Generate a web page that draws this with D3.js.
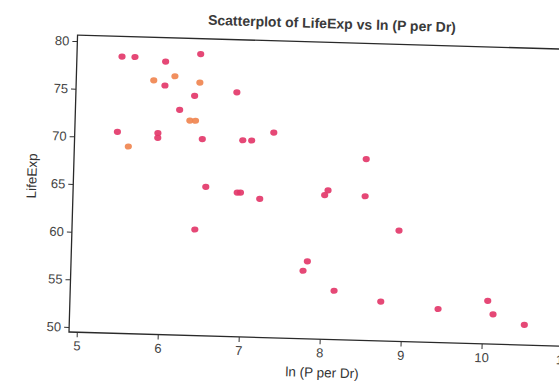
<!DOCTYPE html>
<html lang="en">
<head>
<meta charset="UTF-8">
<title>Scatterplot of LifeExp vs ln (P per Dr)</title>
<script src="https://d3js.org/d3.v7.min.js"></script>
<style>
    body { margin: 0; background: #fff; }
    svg { display: block; font-family: "Liberation Sans", Arial, sans-serif; }
    .axis text { font-size: 13px; fill: #444; }
    .axis line { stroke: #333; }
</style>
</head>
<body>
<div id="chart"></div>
<script>
    // values
    const lnPperDr = [5.46, 5.62, 6.43, 6.00, 5.86, 6.12, 6.00, 6.43, 6.37, 6.89,
                      6.19, 6.32, 6.39, 5.43, 5.57, 5.93, 5.93, 6.48, 6.98, 7.09,
                      7.36, 8.51, 8.05, 8.01, 6.54, 6.93, 6.97, 7.21, 6.42, 8.51,
                      8.94, 7.82, 7.77, 8.16, 8.74, 9.45, 10.06, 10.13, 10.52];
    const lifeExp = [78.5, 78.5, 79.0, 78.1, 76.1, 76.6, 75.6, 76.0, 74.6, 75.1,
                     73.1, 72.0, 72.0, 70.6, 69.1, 70.6, 70.1, 70.1, 70.1, 70.1,
                     71.0, 68.5, 65.1, 64.6, 65.1, 64.6, 64.6, 64.0, 60.6, 64.6,
                     61.1, 57.6, 56.6, 54.6, 53.6, 53.0, 54.0, 52.6, 51.6];
    // print tone of each dot: "o" orange, "p" pink
    const tone = ["p", "p", "p", "p", "o", "o", "p", "o", "p", "p",
                  "p", "o", "o", "p", "o", "p", "p", "p", "p", "p",
                  "p", "p", "p", "p", "p", "p", "p", "p", "p", "p",
                  "p", "p", "p", "p", "p", "p", "p", "p", "p"];
    const xTicks = [5, 6, 7, 8, 9, 10, 11];
    const yTicks = [50, 55, 60, 65, 70, 75, 80];

    const data = lnPperDr.map((x, i) => ({ x: x, y: lifeExp[i], t: tone[i] }));

    const width = 559, height = 383;
    const plotW = 520, plotH = 297;

    const svg = d3.select('#chart').append('svg')
        .attr('width', width)
        .attr('height', height);

    // the scan is tilted a little clockwise
    const g = svg.append('g')
        .attr('transform', 'rotate(1.65, 69, 332)')
        .append('g')
        .attr('transform', 'translate(69,35)');

    const x = d3.scaleLinear().domain([5, 11]).range([7.8, 493.8]);
    const y = d3.scaleLinear().domain([50, 80]).range([292, 5.9]);
    const color = d3.scaleOrdinal().domain(["p", "o"]).range(["#e3386a", "#f08650"]);

    // frame
    g.append('rect')
        .attr('width', plotW)
        .attr('height', plotH)
        .attr('fill', 'none')
        .attr('stroke', '#2a2a2a')
        .attr('stroke-width', 1.3);

    g.append('g')
        .attr('class', 'axis')
        .attr('transform', `translate(0,${plotH})`)
        .call(d3.axisBottom(x).tickValues(xTicks).tickFormat(d3.format('d'))
            .tickSize(5).tickSizeOuter(0).tickPadding(4))
        .call(a => a.select('.domain').remove());

    g.append('g')
        .attr('class', 'axis')
        .call(d3.axisLeft(y).tickValues(yTicks).tickFormat(d3.format('d'))
            .tickSize(5).tickSizeOuter(0).tickPadding(3))
        .call(a => a.select('.domain').remove());

    g.selectAll('ellipse.pt')
        .data(data)
        .enter()
        .append('ellipse')
        .attr('class', 'pt')
        .attr('cx', d => x(d.x))
        .attr('cy', d => y(d.y))
        .attr('rx', 3.6)
        .attr('ry', 3.1)
        .attr('fill', d => color(d.t))
        .attr('fill-opacity', 0.92);

    // title
    g.append('text')
        .attr('x', 254)
        .attr('y', -14)
        .attr('text-anchor', 'middle')
        .style('font-size', '14px')
        .style('font-weight', 'bold')
        .style('fill', '#3a3a3a')
        .text('Scatterplot of LifeExp vs ln (P per Dr)');

    // x label
    g.append('text')
        .attr('x', 254)
        .attr('y', 335)
        .attr('text-anchor', 'middle')
        .style('font-size', '13.5px')
        .style('fill', '#333')
        .text('ln (P per Dr)');

    // y label
    g.append('text')
        .attr('transform', 'translate(-37,142) rotate(-90)')
        .attr('text-anchor', 'middle')
        .style('font-size', '13.5px')
        .style('fill', '#333')
        .text('LifeExp');
</script>
</body>
</html>
